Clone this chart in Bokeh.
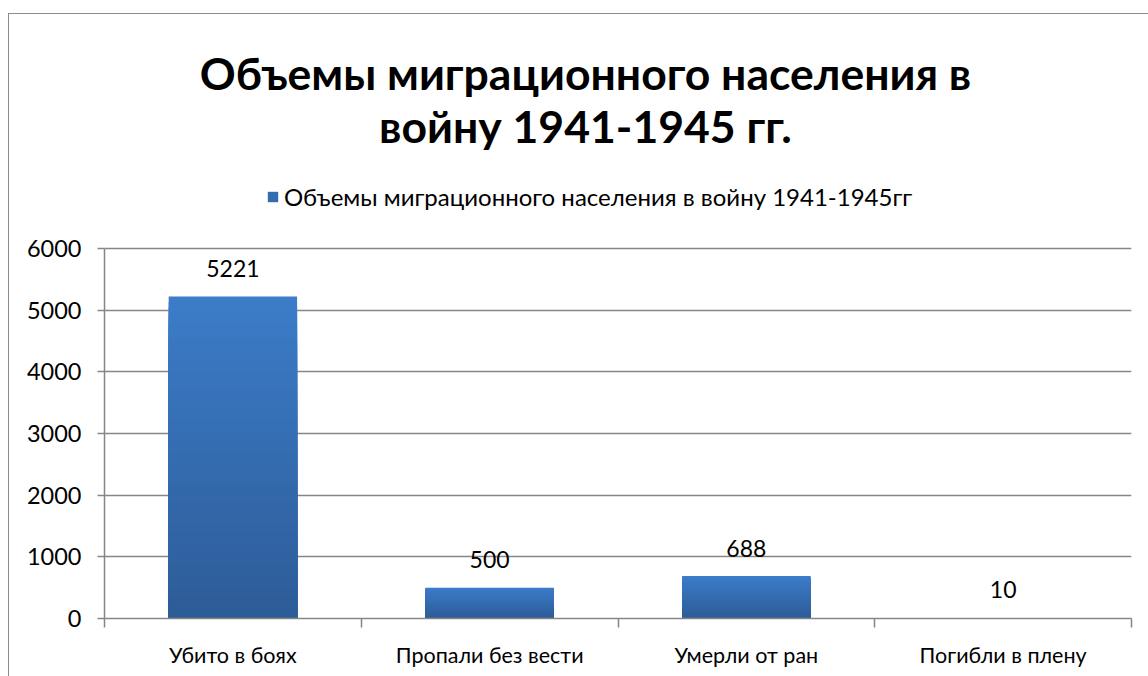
from bokeh.plotting import figure
from bokeh.models import (FixedTicker, Label, Legend, LegendItem,
                          ColumnDataSource, Range1d, InlineStyleSheet)
from bokeh.core.properties import value
from bokeh.embed import file_html
from bokeh.resources import INLINE

# ---- data ----
categories = ["Убито в боях", "Пропали без вести", "Умерли от ран", "Погибли в плену"]
values = [5221, 500, 688, 10]
title_lines = ["Объемы миграционного населения в", "войну 1941-1945 гг."]
series_name = "Объемы миграционного населения в войну 1941-1945гг"
y_ticks = [0, 1000, 2000, 3000, 4000, 5000, 6000]
y_max = 6000

FONT = "Lato"
W, H = 1148, 676
GREY = "#868686"

# layout (pixels)
FRAME_TOP, AXIS_TOP, AXIS_BOTTOM = 20, 248, 618
y_end = y_max * (AXIS_BOTTOM - FRAME_TOP) / (AXIS_BOTTOM - AXIS_TOP)

p = figure(width=W, height=H, output_backend="svg", toolbar_location=None,
           x_range=Range1d(0, len(categories)), y_range=Range1d(0, y_end),
           min_border_left=104, min_border_right=17, min_border_top=FRAME_TOP,
           min_border_bottom=H - AXIS_BOTTOM)
p.outline_line_color = None
p.background_fill_color = "white"
p.border_fill_color = "white"

xs = [i + 0.5 for i in range(len(categories))]

# gradient bars: overlapping bars, full height light, shorter ones darker
N = 60
top_rgb = (0x3c, 0x7c, 0xc9)
bot_rgb = (0x2d, 0x5c, 0x97)
renderers = []
for k in range(N, 0, -1):
    t = (k - 0.5) / N  # 1 at top, 0 at bottom
    rgb = tuple(int(round(b + (a - b) * t)) for a, b in zip(top_rgb, bot_rgb))
    col = "#%02x%02x%02x" % rgb
    src = ColumnDataSource(dict(x=xs, top=[v * k / N for v in values]))
    r = p.vbar(x="x", bottom=0, top="top", width=0.5, source=src,
               fill_color=col, line_color=None)
    renderers.append(r)

# data labels
p.text(x=xs, y=values, text=[str(v) for v in values], text_align="center",
       text_baseline="middle", y_offset=-28, text_font=value(FONT),
       text_font_size="23px", text_color="black")

# axes
p.xaxis.ticker = FixedTicker(ticks=xs, minor_ticks=list(range(len(categories) + 1)))
p.xaxis.major_label_overrides = {x: c for x, c in zip(xs, categories)}
p.xaxis.axis_line_color = GREY
p.xaxis.axis_line_width = 1.5
p.xaxis.major_tick_out = 0
p.xaxis.major_tick_in = 0
p.xaxis.minor_tick_out = 9
p.xaxis.minor_tick_in = 0
p.xaxis.minor_tick_line_color = GREY
p.xaxis.minor_tick_line_width = 1.5
p.xaxis.major_label_standoff = 14
p.xaxis.major_label_text_font = FONT
p.xaxis.major_label_text_font_size = "21.5px"
p.xaxis.major_label_text_color = "black"

p.yaxis.ticker = FixedTicker(ticks=y_ticks, minor_ticks=[])
p.yaxis.bounds = (0, y_max)
p.yaxis.axis_line_color = GREY
p.yaxis.axis_line_width = 1.5
p.yaxis.major_tick_out = 7
p.yaxis.major_tick_in = 0
p.yaxis.major_tick_line_color = GREY
p.yaxis.major_tick_line_width = 1.5
p.yaxis.minor_tick_line_color = None
p.yaxis.major_label_standoff = 16
p.yaxis.major_label_text_font = FONT
p.yaxis.major_label_text_font_size = "23.5px"
p.yaxis.major_label_text_color = "black"

p.xgrid.visible = False
p.ygrid.grid_line_color = GREY
p.ygrid.grid_line_width = 1.5

# two-line title (screen units: from frame's bottom-left)
TITLE_CX = 585 - 104
for i, line in enumerate(title_lines):
    p.add_layout(Label(x=TITLE_CX, y=AXIS_BOTTOM - (72 + 53 * i),
                       x_units="screen", y_units="screen",
                       text=line, text_align="center", text_baseline="middle",
                       text_font=FONT, text_font_style="bold",
                       text_font_size="44.5px", text_color="black"))

# legend
legend = Legend(items=[LegendItem(label=series_name, renderers=[renderers[N // 2]])],
                location=(162, 407), orientation="horizontal",
                border_line_color=None, background_fill_alpha=0,
                padding=0, margin=0, spacing=0,
                glyph_width=13, glyph_height=13, label_standoff=5,
                label_height=15, label_text_font=FONT,
                label_text_font_size="24px", label_text_color="black")
p.add_layout(legend)

# outer chart frame (left and top edges visible in the window)
p.stylesheets = [InlineStyleSheet(css=(
    ":host::after{content:'';position:absolute;left:8px;top:13px;right:0;"
    "bottom:0;border-left:1.5px solid #8c8c8c;border-top:1.5px solid #8c8c8c;"
    "pointer-events:none;}"))]

open("out.html", "w").write(file_html(p, INLINE))
